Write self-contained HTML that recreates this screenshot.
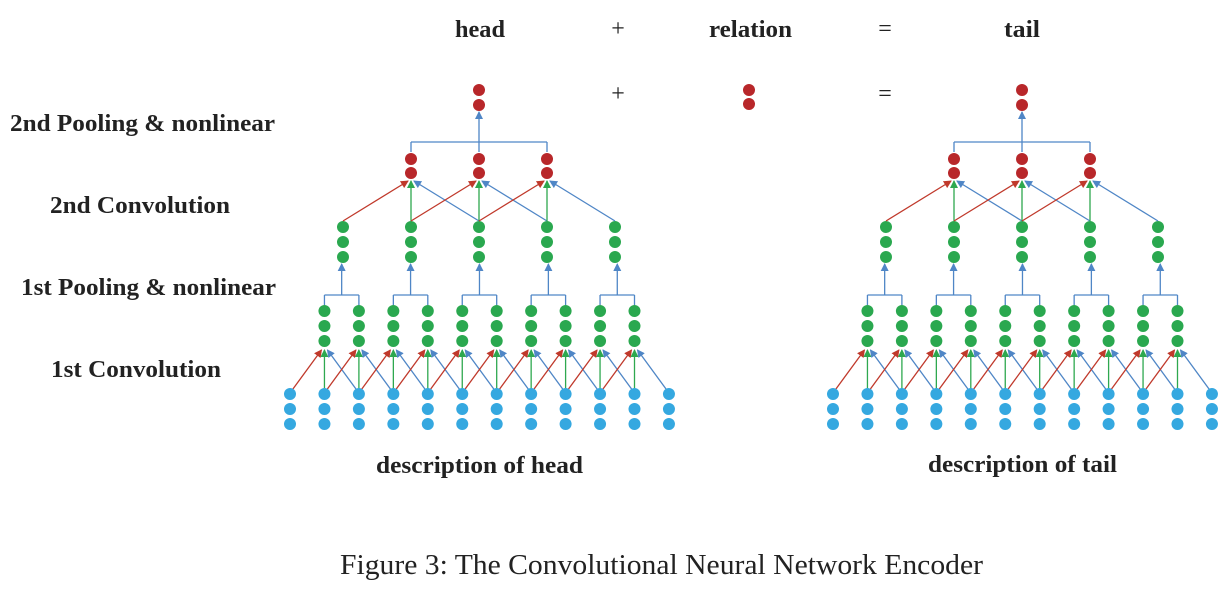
<!DOCTYPE html>
<html><head><meta charset="utf-8"><style>
html,body{margin:0;padding:0;background:#fff;}
svg text{font-family:"Liberation Serif",serif;}
.b{font-weight:bold;font-size:24px;fill:#222;}
</style></head><body>
<svg id="s" width="1226" height="591" viewBox="0 0 1226 591" xmlns="http://www.w3.org/2000/svg">
<defs>
<marker id="mr" markerWidth="8" markerHeight="8" refX="7" refY="4" orient="auto" markerUnits="userSpaceOnUse"><path d="M0,0 L8,4 L0,8 z" fill="#c0392b"/></marker>
<marker id="mg" markerWidth="8" markerHeight="8" refX="7" refY="4" orient="auto" markerUnits="userSpaceOnUse"><path d="M0,0 L8,4 L0,8 z" fill="#2ea84f"/></marker>
<marker id="mb" markerWidth="8" markerHeight="8" refX="7" refY="4" orient="auto" markerUnits="userSpaceOnUse"><path d="M0,0 L8,4 L0,8 z" fill="#4f86c6"/></marker>
</defs>
<text class="b" x="455" y="37" textLength="50" lengthAdjust="spacingAndGlyphs">head</text>
<text x="618" y="36" font-size="24" text-anchor="middle" fill="#222">+</text>
<text class="b" x="709" y="37" textLength="83" lengthAdjust="spacingAndGlyphs">relation</text>
<text x="885" y="36" font-size="24" text-anchor="middle" fill="#222">=</text>
<text class="b" x="1004" y="37" textLength="36" lengthAdjust="spacingAndGlyphs">tail</text>
<text x="618" y="101" font-size="24" text-anchor="middle" fill="#222">+</text>
<text x="885" y="101" font-size="24" text-anchor="middle" fill="#222">=</text>
<text class="b" x="10" y="131" textLength="265" lengthAdjust="spacingAndGlyphs">2nd Pooling &amp; nonlinear</text>
<text class="b" x="50" y="213" textLength="180" lengthAdjust="spacingAndGlyphs">2nd Convolution</text>
<text class="b" x="21" y="295" textLength="255" lengthAdjust="spacingAndGlyphs">1st Pooling &amp; nonlinear</text>
<text class="b" x="51" y="377" textLength="170" lengthAdjust="spacingAndGlyphs">1st Convolution</text>
<text class="b" x="376" y="473" textLength="207" lengthAdjust="spacingAndGlyphs">description of head</text>
<text class="b" x="928" y="472" textLength="189" lengthAdjust="spacingAndGlyphs">description of tail</text>
<text x="340" y="574" font-size="28" fill="#222" textLength="643" lengthAdjust="spacingAndGlyphs">Figure 3: The Convolutional Neural Network Encoder</text>
<g id="g"></g>
</svg>
<script>
var g=document.getElementById('g'),h='';
var R='#b8272a',G='#2aa84f',B='#35a8e0';
function dot(x,y,c){h+='<circle cx="'+x+'" cy="'+y+'" r="6" fill="'+c+'"/>';}
function ln(x1,y1,x2,y2,c,m){h+='<line x1="'+x1+'" y1="'+y1+'" x2="'+x2+'" y2="'+y2+'" stroke="'+c+'" stroke-width="1.3"'+(m?' marker-end="url(#'+m+')"':'')+'/>';}
dot(749,90,R);dot(749,104,R);
[0,543].forEach(function(o){
 var ix=[];for(var i=0;i<12;i++)ix.push(o+290+i*34.45);
 for(var i=1;i<=10;i++){
  ln(ix[i-1],393,ix[i]-3,350,'#c0392b','mr');
  ln(ix[i],393,ix[i],350,'#2ea84f','mg');
  ln(ix[i+1],393,ix[i]+3,350,'#4f86c6','mb');
 }
 for(var i=0;i<12;i++){dot(ix[i],394,B);dot(ix[i],409,B);dot(ix[i],424,B);}
 for(var i=1;i<=10;i++){dot(ix[i],311,G);dot(ix[i],326,G);dot(ix[i],341,G);}
 var px=[];
 for(var k=0;k<5;k++){
  var a=ix[1+2*k],b=ix[2+2*k],c=(a+b)/2;px.push(o+343+k*68);
  ln(a,305,a,295,'#4f86c6');ln(b,305,b,295,'#4f86c6');ln(a,295,b,295,'#4f86c6');
  ln(c,295,c,264,'#4f86c6','mb');
 }
 for(var k=0;k<5;k++){dot(px[k],227,G);dot(px[k],242,G);dot(px[k],257,G);}
 for(var j=1;j<=3;j++){
  ln(px[j-1],221,px[j]-3,181,'#c0392b','mr');
  ln(px[j],221,px[j],181,'#2ea84f','mg');
  ln(px[j+1],221,px[j]+3,181,'#4f86c6','mb');
 }
 for(var j=1;j<=3;j++){dot(px[j],159,R);dot(px[j],173,R);}
 ln(px[1],152,px[1],142,'#4f86c6');ln(px[3],152,px[3],142,'#4f86c6');ln(px[1],142,px[3],142,'#4f86c6');
 ln(px[2],152,px[2],112,'#4f86c6','mb');
 dot(px[2],90,R);dot(px[2],105,R);
});
g.innerHTML=h;
</script>
</body></html>
